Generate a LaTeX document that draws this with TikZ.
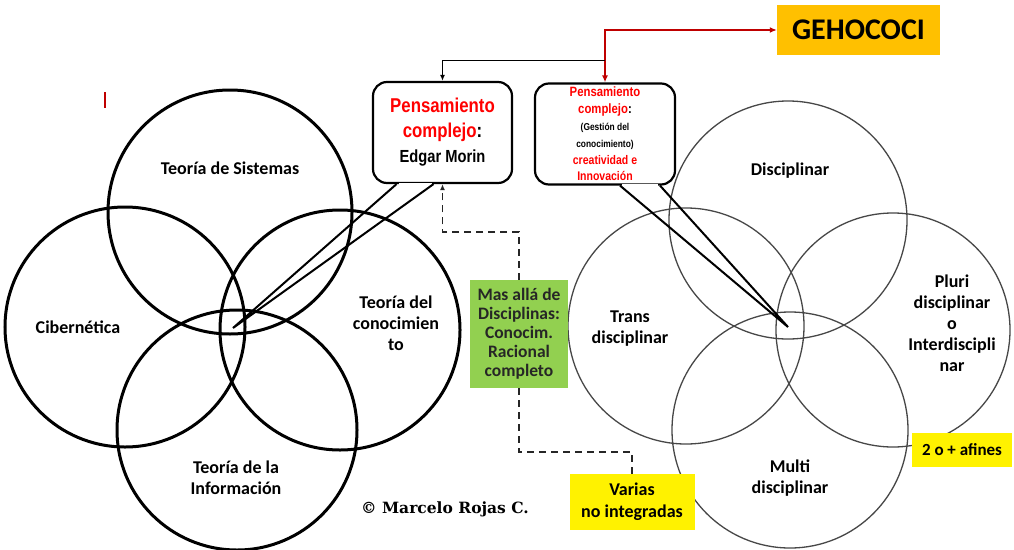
\documentclass[tikz,border=0pt]{standalone}
\usepackage{fontspec}
\setmainfont{Carlito}
\newfontfamily\narrowfont[FakeStretch=0.84]{Liberation Sans}
\newfontfamily\markfont{DejaVu Serif}
\usetikzlibrary{arrows.meta}

\begin{document}
\begin{tikzpicture}[x=1pt,y=-1pt,
     ring/.style={line width=3pt},
     thinring/.style={line width=1.3pt,draw=black!72},
     lbl/.style={font=\fontsize{18}{21}\selectfont\bfseries,align=center,inner sep=0pt},
     callout/.style={draw,line width=2.2pt,rounded corners=14pt,fill=white,inner sep=0pt,align=center},
     tagbox/.style={inner sep=0pt,align=center,font=\fontsize{17}{19}\selectfont\bfseries},
     dashline/.style={line width=1.8pt,dash pattern=on 7pt off 5pt,black!85},
     tip/.style={-{Latex[length=6pt,width=5pt]}}
     ]
%Page size of the reference
\def \picw{1014}
\def \pich{549}
\useasboundingbox (0,0) rectangle (\picw,\pich);
\fill[white] (0,0) rectangle (\picw,\pich);

%Left group of thick circles
\foreach \cx/\cy/\r in {230/212/122, 125/327/120, 340/330/120, 237/430/120}
   \draw[ring] (\cx,\cy) circle (\r);

%Right group of thin circles
\foreach \cx/\cy/\r in {788/220/119, 686/326/118, 893/330/117, 790/430/118}
   \draw[thinring] (\cx,\cy) circle (\r);

%Labels of the circles
\node[lbl] (sist) at (230,168) {Teoría de Sistemas};
\node[lbl] (ciber) at (78,327) {Cibernética};
\node[lbl] (conoc) at (396,323) {Teoría del\\conocimien\\to};
\node[lbl] (infor) at (236,478) {Teoría de la\\Información};
\node[lbl] (disc) at (790,171) {Disciplinar};
\node[lbl] (trans) at (630,329) {Trans\\disciplinar};
\node[lbl] (pluri) at (952,323) {Pluri\\disciplinar\\o\\Interdiscipli\\nar};
\node[lbl] (multi) at (790,478) {Multi\\disciplinar};

%Small red mark
\draw[red!75!black,line width=1.2pt] (105,92) -- (105,108);

%Callouts with their tails
\coordinate (tipL) at (233,328);
\coordinate (tipR) at (788,327);

\node[callout,minimum width=139pt,minimum height=101pt,
      font=\narrowfont\bfseries\fontsize{20}{25}\selectfont] (pcleft) at (442.5,132.5)
      {\textcolor{red}{Pensamiento}\\\textcolor{red}{complejo}:\\{\fontsize{17.5}{25}\selectfont Edgar Morin}};
\node[callout,minimum width=140pt,minimum height=101pt,
      font=\narrowfont\bfseries\fontsize{12.5}{16.8}\selectfont] (pcright) at (605,134)
      {\textcolor{red}{\fontsize{13.5}{16}\selectfont Pensamiento}\\
       \textcolor{red}{\fontsize{13.5}{16}\selectfont complejo}{\fontsize{13.5}{16}\selectfont :}\\
       {\fontsize{10}{12}\selectfont (Gestión del}\\
       {\fontsize{10}{12}\selectfont conocimiento)}\\
       \textcolor{red}{creatividad e}\\
       \textcolor{red}{Innovación}};

\draw[white,line width=3pt] ([xshift=-44pt]pcleft.south) -- ([xshift=-11pt]pcleft.south);
\draw[line width=2pt,line join=miter] ([xshift=-46pt]pcleft.south) -- (tipL) -- ([xshift=-9pt]pcleft.south);
\draw[white,line width=3pt] ([xshift=17pt]pcright.south) -- ([xshift=53pt]pcright.south);
\draw[line width=2pt,line join=miter] ([xshift=15pt]pcright.south) -- (tipR) -- ([xshift=55pt]pcright.south);

%Boxes
\node[tagbox,fill={rgb,255:red,255;green,192;blue,0},minimum width=163pt,minimum height=50pt,
      font=\fontsize{30}{32}\selectfont\bfseries] (gehococi) at (858.5,30) {GEHOCOCI};
\node[tagbox,fill={rgb,255:red,146;green,208;blue,80},minimum width=98pt,minimum height=108pt,
      font=\fontsize{17.5}{19}\selectfont\bfseries\color{black!85}] (masalla) at (519,334)
      {Mas allá de\\Disciplinas:\\Conocim.\\Racional\\completo};
\node[tagbox,fill=yellow,minimum width=125pt,minimum height=56pt,
      font=\fontsize{18}{22}\selectfont\bfseries] (varias) at (632,502) {Varias\\no integradas};
\node[tagbox,fill=yellow,minimum width=100pt,minimum height=34pt] (afines) at (962,450) {2 o + afines};

%Connectors
\draw[red!75!black,line width=1.6pt,{Latex[length=7pt,width=6pt]}-{Latex[length=7pt,width=6pt]}]
     (pcright.north) |- (gehococi.west);
\path (pcright.north) ++(0,-22) coordinate (jn);
\draw[line width=1.6pt,tip] (jn) -| (pcleft.north);
\draw[dashline,tip] (masalla.north) -- ++(0,-48) -| (pcleft.south);
\draw[dashline] (masalla.south) -- ++(0,64) -| (varias.north);

%Author mark
\node[font=\markfont\bfseries\fontsize{15.5}{17}\selectfont] (mark) at (445,509) {© Marcelo Rojas C.};
\end{tikzpicture}
\end{document}
